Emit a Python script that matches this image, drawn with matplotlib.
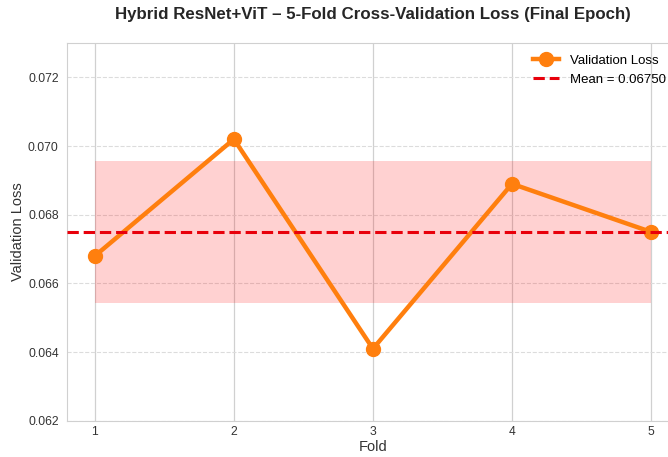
import matplotlib.pyplot as plt
import numpy as np

folds = [1, 2, 3, 4, 5]
val_loss = [0.0668, 0.0702, 0.0641, 0.0689, 0.0675]

mean_loss = np.mean(val_loss)
std_loss = np.std(val_loss)

plt.rcParams['font.family'] = ['Liberation Sans', 'DejaVu Sans']

fig = plt.figure(figsize=(6.68, 4.57), dpi=100)
ax = fig.add_axes([0.1003, 0.079, 0.916, 0.827])

ax.fill_between([1, 5], mean_loss - std_loss, mean_loss + std_loss,
                color='red', alpha=0.18, linewidth=0, zorder=1)
ax.plot(folds, val_loss, color='#ff7f0e', marker='o', markersize=10,
        linewidth=3.2, label='Validation Loss', zorder=3)
ax.axhline(mean_loss, color='#e8000b', linestyle='--', linewidth=2.2,
           label='Mean = %.5f' % mean_loss, zorder=4)

ax.set_xlim(0.8, 5.2)
ax.set_ylim(0.062, 0.073)
ax.set_xticks(folds)
ax.set_yticks([0.062, 0.064, 0.066, 0.068, 0.070, 0.072])
ax.yaxis.set_major_formatter(plt.FormatStrFormatter('%.3f'))

ax.grid(axis='x', color='#d0d0d0', linewidth=0.9, linestyle='-')
ax.grid(axis='y', color='#dcdcdc', linewidth=0.8, linestyle='--')
ax.set_axisbelow(True)
for s in ax.spines.values():
    s.set_color('#d0d0d0')
ax.tick_params(length=0, labelsize=8.7, labelcolor='#333333')
ax.tick_params(axis='x', pad=4)
ax.tick_params(axis='y', pad=6)

ax.set_xlabel('Fold', fontsize=10.5, color='#333333', labelpad=1)
ax.set_ylabel('Validation Loss', fontsize=10.5, color='#333333', labelpad=2)
ax.set_title('Hybrid ResNet+ViT – 5-Fold Cross-Validation Loss (Final Epoch)',
             fontsize=12.2, fontweight='bold', color='#262626', pad=17)
ax.legend(loc='upper right', frameon=False, fontsize=9.5,
          handlelength=2.0, bbox_to_anchor=(0.998, 1.0))

plt.savefig('out.png', dpi=100)
